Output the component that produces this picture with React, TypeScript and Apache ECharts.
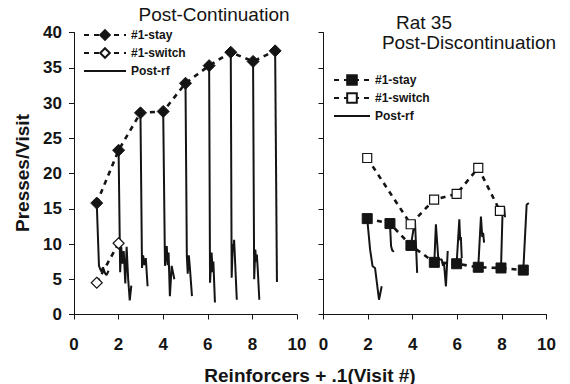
import React, { useEffect, useRef } from "react";
import * as echarts from "echarts";

// ---------- data ----------
const xTickMax = 10;
const xTickStep = 2;
const yTickMax = 40;
const yTickStep = 5;

// Left panel: Post-Continuation
const leftStayX = [1.02, 2.0, 2.98, 4.0, 5.0, 6.06, 7.03, 8.03, 9.02];
const leftStayY = [15.8, 23.3, 28.6, 28.8, 32.8, 35.3, 37.2, 35.9, 37.4];
const leftSwitchX = [1.02, 2.0];
const leftSwitchY = [4.5, 10.1];
const leftPostRf: number[][][] = [
  [[1.02, 15.8], [1.12, 6.9], [1.22, 6.1], [1.3, 6.7], [1.4, 5.8], [1.46, 5.6], [1.55, 6.2]],
  [[2.0, 23.3], [2.07, 6.0], [2.12, 9.6], [2.17, 7.2], [2.23, 9.0], [2.3, 4.4], [2.36, 9.6], [2.43, 5.0], [2.5, 2.0], [2.57, 4.1]],
  [[2.98, 28.6], [3.05, 6.6], [3.1, 8.4], [3.16, 7.0], [3.22, 8.0], [3.3, 4.0]],
  [[4.0, 28.8], [4.08, 6.9], [4.16, 9.7], [4.2, 7.0], [4.24, 8.8], [4.3, 2.6], [4.38, 6.9], [4.5, 5.0]],
  [[5.0, 32.8], [5.06, 8.3], [5.1, 5.8], [5.15, 8.4], [5.2, 6.5], [5.29, 2.6]],
  [[6.06, 35.3], [6.1, 4.5], [6.17, 8.8], [6.22, 6.0], [6.25, 7.5], [6.32, 1.7]],
  [[7.03, 37.2], [7.07, 5.2], [7.12, 10.0], [7.15, 9.0], [7.18, 10.6], [7.22, 7.8], [7.3, 2.1]],
  [[8.03, 35.9], [8.08, 5.0], [8.13, 9.2], [8.17, 7.5], [8.2, 8.5], [8.24, 6.4], [8.31, 2.1]],
  [[9.02, 37.4], [9.1, 4.6]],
];

// Right panel: Post-Discontinuation
const rightStayX = [1.96, 2.98, 3.92, 4.97, 5.97, 6.94, 7.96, 8.96];
const rightStayY = [13.6, 12.9, 9.8, 7.4, 7.2, 6.7, 6.6, 6.3];
const rightSwitchX = [1.96, 3.91, 4.96, 5.97, 6.94, 7.91];
const rightSwitchY = [22.2, 12.8, 16.3, 17.1, 20.8, 14.7];
const rightPostRf: number[][][] = [
  [[1.96, 13.6], [2.09, 9.2], [2.2, 6.85], [2.31, 6.6], [2.49, 2.1], [2.61, 4.0]],
  [[2.98, 12.9], [3.03, 9.7], [3.08, 9.1], [3.16, 8.9]],
  [[3.92, 9.8], [4.1, 13.4], [4.2, 5.9]],
  [[4.97, 7.4], [5.04, 12.8], [5.15, 7.8], [5.3, 7.8], [5.36, 6.9], [5.4, 7.4], [5.49, 4.0], [5.57, 9.0]],
  [[5.97, 7.2], [6.09, 13.5], [6.13, 10.5], [6.16, 11.0], [6.2, 8.0]],
  [[6.94, 6.7], [7.06, 13.9], [7.12, 11.0], [7.16, 11.6], [7.2, 10.2]],
  [[7.96, 6.6], [8.03, 14.6], [8.1, 15.3], [8.14, 13.8]],
  [[8.96, 6.3], [9.11, 15.6], [9.21, 15.8]],
];

const legendLabels: Record<string, string> = {
  "#1-stay": "#1-stay",
  "#1-switch": "#1-switch",
  "Post-rf": "Post-rf",
  "r#1-stay": "#1-stay",
  "r#1-switch": "#1-switch",
  "rPost-rf": "Post-rf",
};

const zip = (xs: number[], ys: number[]) => xs.map((x, i) => [x, ys[i]]);

const FONT = "'Liberation Sans', Arial, Helvetica, sans-serif";
const INK = "#141414";

export default function App() {
  const ref = useRef<HTMLDivElement>(null);

  useEffect(() => {
    document.body.style.margin = "0";
    if (!ref.current) return;
    const chart = echarts.init(ref.current, undefined, { renderer: "svg" });

    const grids = [
      { left: 74, top: 32.5, width: 223, height: 282 },
      { left: 323.5, top: 32.5, width: 223, height: 282 },
    ];

    const xAxis = [0, 1].map((i) => ({
      type: "value",
      gridIndex: i,
      min: 0,
      max: xTickMax,
      interval: xTickStep,
      axisLine: { lineStyle: { color: INK, width: 1 } },
      axisTick: { show: true, length: 5, inside: false, lineStyle: { color: INK } },
      axisLabel: {
        margin: 21,
        color: INK,
        fontFamily: FONT,
        fontWeight: "bold",
        fontSize: 17,
      },
      splitLine: { show: false },
    }));

    const yAxis = [0, 1].map((i) => ({
      type: "value",
      gridIndex: i,
      min: 0,
      max: yTickMax,
      interval: yTickStep,
      axisLine: { show: true, lineStyle: { color: INK, width: 1 } },
      axisTick: { show: true, length: 5, inside: false, lineStyle: { color: INK } },
      axisLabel: {
        show: i === 0,
        margin: 12,
        color: INK,
        fontFamily: FONT,
        fontWeight: "bold",
        fontSize: 17,
      },
      splitLine: { show: false },
    }));

    const dashed = { color: INK, width: 2.6, type: [5, 5] as number[] };

    const series: any[] = [];
    const addPanel = (
      idx: number,
      prefix: string,
      symbol: string,
      stay: number[][],
      sw: number[][],
      post: number[][][],
      symSize: number
    ) => {
      post.forEach((seg) => {
        series.push({
          name: prefix + "Post-rf",
          type: "line",
          xAxisIndex: idx,
          yAxisIndex: idx,
          data: seg,
          symbol: "none",
          z: 2,
          itemStyle: { color: INK, opacity: 0 },
          lineStyle: { color: INK, width: 2, opacity: 1 },
        });
      });
      series.push({
        name: prefix + "#1-stay",
        type: "line",
        xAxisIndex: idx,
        yAxisIndex: idx,
        data: stay,
        symbol,
        symbolSize: symSize,
        z: 3,
        itemStyle: { color: INK, borderColor: INK, borderWidth: 1 },
        lineStyle: dashed,
      });
      series.push({
        name: prefix + "#1-switch",
        type: "line",
        xAxisIndex: idx,
        yAxisIndex: idx,
        data: sw,
        symbol,
        symbolSize: symSize - 1,
        z: 3,
        itemStyle: { color: "#ffffff", borderColor: INK, borderWidth: 1.2 },
        lineStyle: dashed,
      });
    };

    addPanel(0, "", "diamond", zip(leftStayX, leftStayY), zip(leftSwitchX, leftSwitchY), leftPostRf, 12);
    addPanel(1, "r", "rect", zip(rightStayX, rightStayY), zip(rightSwitchX, rightSwitchY), rightPostRf, 10);

    const legendText = {
      fontFamily: FONT,
      fontWeight: "bold",
      fontSize: 12,
      color: INK,
    };

    const legendData = (prefix: string) => [
      prefix + "#1-stay",
      prefix + "#1-switch",
      { name: prefix + "Post-rf", itemStyle: { opacity: 0 }, lineStyle: { color: INK, width: 2, opacity: 1 } },
    ];

    const option: any = {
      animation: false,
      backgroundColor: "#ffffff",
      grid: grids,
      xAxis,
      yAxis,
      legend: [
        {
          orient: "vertical",
          left: 83,
          top: 29,
          itemWidth: 42,
          itemHeight: 12,
          itemGap: 6,
          padding: 0,
          data: legendData(""),
          formatter: (n: string) => legendLabels[n] || n,
          textStyle: legendText,
          selectedMode: false,
        },
        {
          orient: "vertical",
          left: 333,
          top: 74,
          itemWidth: 36,
          itemHeight: 12,
          itemGap: 6,
          padding: 0,
          data: legendData("r"),
          formatter: (n: string) => legendLabels[n] || n,
          textStyle: legendText,
          selectedMode: false,
        },
      ],
      graphic: [
        {
          type: "text",
          x: 214,
          y: 14,
          style: {
            text: "Post-Continuation",
            font: `19px ${FONT}`,
            fill: INK,
            textAlign: "center",
            textVerticalAlign: "middle",
          },
        },
        {
          type: "text",
          x: 424,
          y: 22,
          style: {
            text: "Rat 35",
            font: `19px ${FONT}`,
            fill: INK,
            textAlign: "center",
            textVerticalAlign: "middle",
          },
        },
        {
          type: "text",
          x: 469,
          y: 42,
          style: {
            text: "Post-Discontinuation",
            font: `19px ${FONT}`,
            fill: INK,
            textAlign: "center",
            textVerticalAlign: "middle",
          },
        },
        {
          type: "text",
          x: 310,
          y: 375,
          style: {
            text: "Reinforcers + .1(Visit #)",
            font: `bold 19px ${FONT}`,
            fill: INK,
            textAlign: "center",
            textVerticalAlign: "middle",
          },
        },
        {
          type: "text",
          x: 22,
          y: 173,
          rotation: Math.PI / 2,
          style: {
            text: "Presses/Visit",
            font: `bold 19px ${FONT}`,
            fill: INK,
            textAlign: "center",
            textVerticalAlign: "middle",
          },
        },
      ],
      series,
    };

    chart.setOption(option);
    return () => chart.dispose();
  }, []);

  return <div ref={ref} style={{ width: 570, height: 384 }} />;
}
